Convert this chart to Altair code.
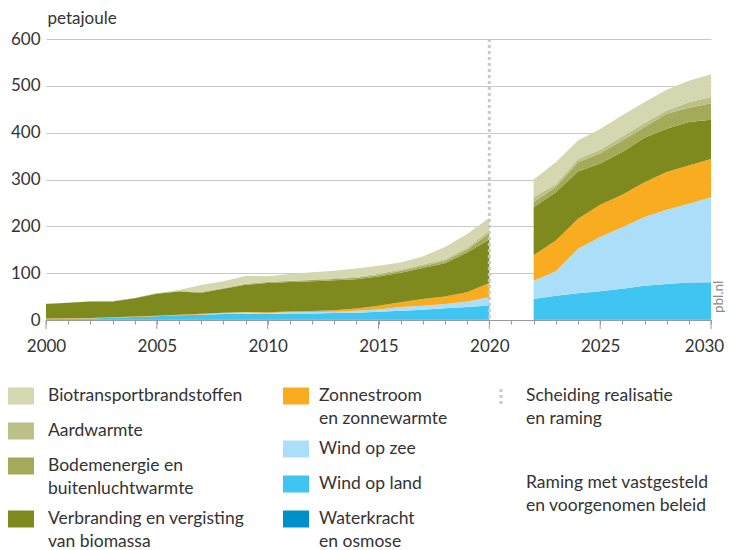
import altair as alt
import pandas as pd

# ---------------- data (PJ) ----------------
years_hist = list(range(2000, 2021))
years_proj = list(range(2022, 2031))

# series, bottom to top of the stack
series = [
    "Waterkracht en osmose",
    "Wind op land",
    "Wind op zee",
    "Zonnestroom en zonnewarmte",
    "Verbranding en vergisting van biomassa",
    "Bodemenergie en buitenluchtwarmte",
    "Aardwarmte",
    "Biotransportbrandstoffen",
]
colors = ["#0090c9", "#40c4f2", "#abdff9", "#f9ac20", "#7f8a1e", "#a3aa5a", "#bcc18a", "#d4d7af"]

hist_water = [0.4] * 21
hist_wind_land = [2.0, 2.5, 3.0, 4.5, 6.0, 7.5, 9.5, 11.0, 12.5, 13.0, 12.4,
                  13.5, 13.6, 14.5, 15.0, 17.3, 19.6, 21.6, 24.6, 27.3, 30.6]
hist_wind_zee = [0, 0, 0, 0, 0, 0, 0, 0.5, 1.5, 2.5, 2.2,
                 2.5, 3.0, 2.8, 4.3, 4.9, 7.7, 8.5, 9.0, 12.0, 18.0]
hist_zon = [0.8, 0.8, 0.9, 0.9, 1.0, 1.0, 1.1, 1.2, 1.3, 1.4, 1.6,
            2.0, 2.0, 3.3, 5.0, 8.0, 10.0, 14.5, 16.0, 19.4, 30.0]
hist_biomassa = [31.2, 32.9, 35.2, 33.6, 38.9, 47.3, 50.0, 45.3, 50.9, 58.1, 62.4,
                 62.6, 64.0, 64.0, 62.3, 62.4, 63.3, 66.0, 71.0, 84.9, 93.0]
hist_bodem = [0.3, 0.4, 0.5, 0.6, 0.7, 0.8, 1.0, 1.2, 1.4, 1.6, 2.0,
              2.2, 2.4, 2.6, 3.0, 3.3, 3.8, 4.4, 5.0, 6.0, 13.0]
hist_aard = [0, 0, 0, 0, 0, 0, 0, 0, 0.1, 0.2, 0.5,
             0.8, 1.2, 1.3, 2.0, 2.5, 2.8, 3.3, 3.8, 4.5, 6.5]
hist_biotransport = [0, 0, 0, 0, 0.1, 0.3, 2.0, 15.4, 14.9, 16.8, 12.0,
                     14.0, 15.5, 16.5, 18.0, 17.0, 15.0, 17.0, 26.0, 29.0, 27.0]

proj_water = [0.4] * 9
proj_wind_land = [44.2, 51.6, 56.6, 61.2, 66.2, 72.6, 76.6, 79.6, 80.4]
proj_wind_zee = [39.4, 52.0, 95.0, 115.4, 131.4, 146.7, 158.5, 168.0, 181.2]
proj_zon = [54.0, 66.0, 64.0, 69.0, 69.5, 74.3, 80.5, 82.0, 82.0]
proj_biomassa = [103.0, 103.0, 101.0, 88.0, 91.0, 95.0, 92.5, 92.6, 83.7]
proj_bodem = [11.0, 11.0, 20.0, 22.0, 25.0, 23.0, 32.0, 30.4, 35.3]
proj_aard = [10.0, 6.0, 7.0, 7.6, 8.5, 8.5, 7.0, 12.0, 13.0]
proj_biotransport = [38.0, 47.0, 39.5, 44.4, 45.0, 44.5, 44.4, 46.0, 48.6]

y_ticks = [0, 100, 200, 300, 400, 500, 600]
x_major = [2000, 2005, 2010, 2015, 2020, 2025, 2030]
split_year = 2020

# legend texts
legend_col1 = ["Biotransportbrandstoffen", "Aardwarmte",
               "Bodemenergie en\nbuitenluchtwarmte", "Verbranding en vergisting\nvan biomassa"]
legend_col1_series = ["Biotransportbrandstoffen", "Aardwarmte",
                      "Bodemenergie en buitenluchtwarmte", "Verbranding en vergisting van biomassa"]
legend_col2 = ["Zonnestroom\nen zonnewarmte", "Wind op zee", "Wind op land", "Waterkracht\nen osmose"]
legend_col2_series = ["Zonnestroom en zonnewarmte", "Wind op zee", "Wind op land", "Waterkracht en osmose"]
legend_col3 = ["Scheiding realisatie\nen raming", "Raming met vastgesteld\nen voorgenomen beleid"]

# ---------------- build tables ----------------
hist_vals = [hist_water, hist_wind_land, hist_wind_zee, hist_zon,
             hist_biomassa, hist_bodem, hist_aard, hist_biotransport]
proj_vals = [proj_water, proj_wind_land, proj_wind_zee, proj_zon,
             proj_biomassa, proj_bodem, proj_aard, proj_biotransport]


def long_table(years, vals):
    rows = []
    for i, (s, v) in enumerate(zip(series, vals)):
        for y, val in zip(years, v):
            rows.append({"year": y, "series": s, "value": val, "order": i})
    return pd.DataFrame(rows)


df_hist = long_table(years_hist, hist_vals)
df_proj = long_table(years_proj, proj_vals)

FONT = "Lato"
TXT = "#333333"
AX = "#9a9a9a"
GRID = "#c8c8c8"

# plot origin on the page (px)
OX, OY = 46, 39
PW, PH = 665, 281

x_scale = alt.Scale(domain=[2000, 2030], nice=False, zero=False)
y_scale = alt.Scale(domain=[0, 600], nice=False)
color_scale = alt.Scale(domain=series, range=colors)

x_axis = alt.Axis(
    values=list(range(2000, 2031)), title=None, grid=False,
    tickSize=4, tickColor=AX, domainColor=AX, labelFont=FONT, labelFontSize=17,
    labelColor=TXT, labelPadding=14, labelFlush=False, labelOverlap=False,
    labelOffset={"condition": {"test": "datum.value === 2030", "value": -7}, "value": 0},
    labelExpr="datum.value % 5 === 0 ? datum.label : ''", format="d",
)
y_axis = alt.Axis(
    values=y_ticks, grid=True, gridColor=GRID, domain=False, ticks=False,
    labelFont=FONT, labelFontSize=17, labelColor=TXT, labelPadding=6,
    title="petajoule", titleAngle=0, titleAlign="left", titleBaseline="middle",
    titleX=1, titleY=-21, titleFont=FONT, titleFontSize=17, titleFontWeight="normal",
    titleColor=TXT,
)


def area(df, with_axes):
    return alt.Chart(df).mark_area(interpolate="linear", opacity=1).encode(
        x=alt.X("year:Q", scale=x_scale, axis=x_axis if with_axes else None),
        y=alt.Y("value:Q", stack="zero", scale=y_scale, axis=y_axis if with_axes else None),
        color=alt.Color("series:N", scale=color_scale, legend=None),
        order=alt.Order("order:Q", sort="ascending"),
    )


area_hist = area(df_hist, True)
area_proj = area(df_proj, False)

split_rule = alt.Chart(pd.DataFrame({"year": [split_year]})).mark_rule(
    color="#c8c8c8", strokeWidth=3, strokeDash=[3, 3]
).encode(x=alt.X("year:Q", scale=x_scale, axis=None), y=alt.value(0), y2=alt.value(PH))

major_ticks = alt.Chart(pd.DataFrame({"year": x_major})).mark_rule(
    color=AX, strokeWidth=1
).encode(x=alt.X("year:Q", scale=x_scale, axis=None), y=alt.value(PH), y2=alt.value(PH + 9))

pbl = alt.Chart(pd.DataFrame({"t": ["pbl.nl"]})).mark_text(
    angle=270, font=FONT, fontSize=13.5, color="#8a8a8a", align="center", baseline="middle"
).encode(x=alt.value(719 - OX), y=alt.value(297 - OY), text="t:N")

# ---------------- legend ----------------
row_y1 = [396, 431, 466, 519]
row_y2 = [396, 449, 484, 519]
row_y3 = [396, 483]
sw_x = [8, 283]
tx_x = [48, 319, 526]
SW_W, SW_H, LINE = 26, 17, 23

sw_rows, txt_rows = [], []
for col, (labels, keys, ys) in enumerate([(legend_col1, legend_col1_series, row_y1),
                                          (legend_col2, legend_col2_series, row_y2)]):
    for lab, key, yc in zip(labels, keys, ys):
        sw_rows.append({"x": sw_x[col] - OX, "x2": sw_x[col] + SW_W - OX,
                        "y": yc - SW_H / 2 - OY, "y2": yc + SW_H / 2 - OY,
                        "c": colors[series.index(key)]})
        for k, line in enumerate(lab.split("\n")):
            txt_rows.append({"x": tx_x[col] - OX, "y": yc + k * LINE - OY, "t": line})
for lab, yc in zip(legend_col3, row_y3):
    for k, line in enumerate(lab.split("\n")):
        txt_rows.append({"x": tx_x[2] - OX, "y": yc + k * LINE - OY, "t": line})

swatches = alt.Chart(pd.DataFrame(sw_rows)).mark_rect().encode(
    x=alt.X("x:Q", scale=None), x2="x2:Q", y=alt.Y("y:Q", scale=None), y2="y2:Q",
    color=alt.Color("c:N", scale=None),
)
legend_text = alt.Chart(pd.DataFrame(txt_rows)).mark_text(
    align="left", baseline="middle", font=FONT, fontSize=17.5, color=TXT
).encode(x=alt.X("x:Q", scale=None), y=alt.Y("y:Q", scale=None), text="t:N")

dotted_sym = alt.Chart(pd.DataFrame({"x": [501 - OX], "y": [389 - OY], "y2": [405 - OY]})).mark_rule(
    color="#c8c8c8", strokeWidth=3, strokeDash=[3, 3]
).encode(x=alt.X("x:Q", scale=None), y=alt.Y("y:Q", scale=None), y2="y2:Q")

chart = alt.layer(
    area_hist, area_proj, split_rule, major_ticks, pbl, swatches, legend_text, dotted_sym
).resolve_scale(
    x="independent", y="independent"
).properties(
    width=PW, height=PH,
    padding={"left": OX - 8, "top": OY - 8, "right": 14, "bottom": 230},
    autosize=alt.AutoSizeParams(type="none"),
    background="white",
).configure_view(stroke=None)

chart.save("out.html", embed_options={"renderer": "svg", "actions": False})
